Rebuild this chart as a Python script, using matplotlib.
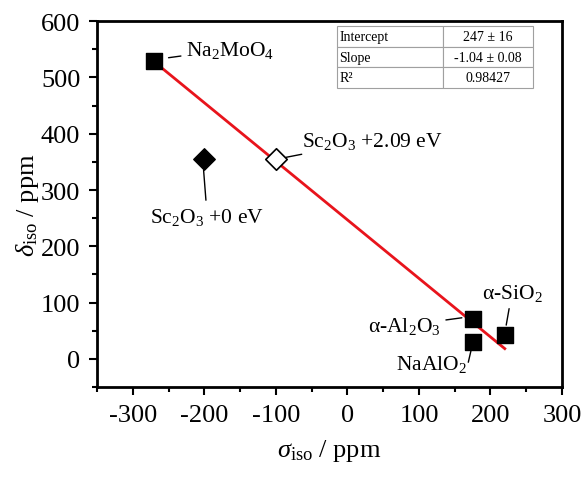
import matplotlib
matplotlib.use("Agg")
import matplotlib.pyplot as plt
import numpy as np

plt.rcParams['font.family'] = ['Liberation Serif', 'DejaVu Serif']
plt.rcParams['mathtext.fontset'] = 'custom'
plt.rcParams['mathtext.rm'] = 'Liberation Serif'
plt.rcParams['mathtext.it'] = 'Liberation Serif:italic'

# data
sq_x = [-270, 175, 175, 220]
sq_y = [530, 70, 30, 42]
sc0_x, sc0_y = [-200], [355]
sc2_x, sc2_y = [-100], [355]
fit_intercept = 247
fit_slope = -1.04
fit_range = [-270, 220]
table_rows = [["Intercept", "247 ± 16"], ["Slope", "-1.04 ± 0.08"], ["R²", "0.98427"]]

fig = plt.figure(figsize=(5.83, 4.81), dpi=100)
ax = fig.add_axes([0.1664, 0.1933, 0.7976, 0.7607])

xf = np.array(fit_range)
ax.plot(xf, fit_intercept + fit_slope * xf, color='#e8141c', lw=2, zorder=2)
ax.scatter(sq_x, sq_y, marker='s', s=120, color='black', zorder=3)
ax.scatter(sc0_x, sc0_y, marker='D', s=120, color='black', zorder=3)
ax.scatter(sc2_x, sc2_y, marker='D', s=120, facecolor='white', edgecolor='black', linewidths=1.2, zorder=3)

ax.set_xlim(-350, 300)
ax.set_ylim(-37, 600)
ax.set_xticks(np.arange(-300, 301, 100))
ax.set_yticks(np.arange(0, 601, 100))
ax.set_xticks(np.arange(-350, 301, 50), minor=True)
ax.set_yticks(np.arange(-50, 601, 50), minor=True)
ax.set_xticklabels([str(v) for v in range(-300, 301, 100)])
ax.tick_params(which='major', direction='out', length=6, width=1.5, labelsize=19, pad=6)
ax.tick_params(which='minor', direction='out', length=3.5, width=1.5)
for s in ax.spines.values():
    s.set_linewidth(2)

ax.set_xlabel(r'$\mathit{\sigma}_{\mathrm{iso}}$ / ppm', fontsize=19, labelpad=8)
ax.set_ylabel(r'$\mathit{\delta}_{\mathrm{iso}}$ / ppm', fontsize=19, labelpad=0)

fs = 15.5
def ann(text, xy, xytext, ha='left', va='center'):
    ax.annotate(text, xy=xy, xytext=xytext, fontsize=fs, ha=ha, va=va,
                arrowprops=dict(arrowstyle='-', color='black', lw=1, shrinkA=2, shrinkB=0))

ann(r'Na$_2$MoO$_4$', (-250, 535), (-225, 550))
ann(r'Sc$_2$O$_3$ +0 eV', (-201, 335), (-196, 272), ha='center', va='top')
ann(r'Sc$_2$O$_3$ +2.09 eV', (-86, 358), (-63, 388))
ann(r'α-Al$_2$O$_3$', (160, 73), (130, 59), ha='right')
ann(r'α-SiO$_2$', (222, 60), (230, 99), ha='center', va='bottom')
ax.text(167, -9, r'NaAlO$_2$', fontsize=fs, ha='right', va='center')
ax.annotate('', xy=(173, 16), xytext=(169, -6),
            arrowprops=dict(arrowstyle='-', color='black', lw=1, shrinkA=0, shrinkB=0))

tb = ax.table(cellText=table_rows, colWidths=[0.54, 0.46], bbox=[0.516, 0.817, 0.4215, 0.169])
tb.auto_set_font_size(False)
for (r, c), cell in tb.get_celld().items():
    cell.set_edgecolor('#a0a0a0')
    cell.set_linewidth(0.8)
    cell.get_text().set_fontsize(10)
    if c == 0:
        cell.get_text().set_ha('left')
        cell.PAD = 0.02
    else:
        cell.get_text().set_ha('center')

fig.savefig('out.png', dpi=100)
